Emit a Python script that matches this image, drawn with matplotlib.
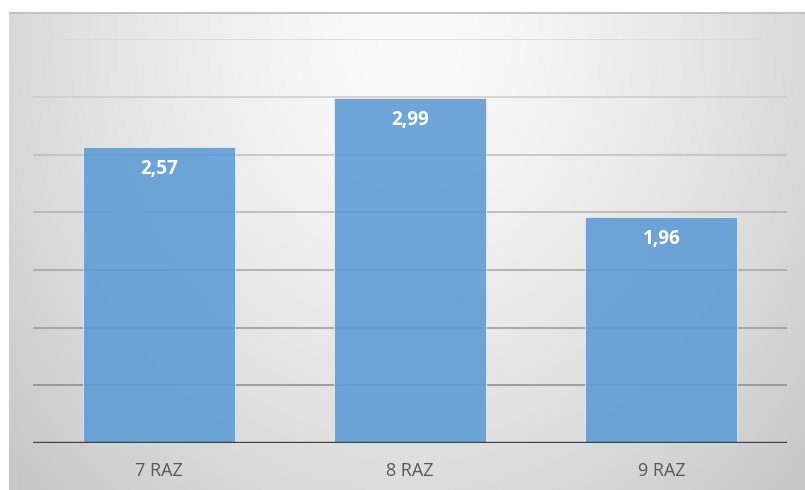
import numpy as np
import matplotlib
matplotlib.use("Agg")
import matplotlib.pyplot as plt

categories = ["7 RAZ", "8 RAZ", "9 RAZ"]
values = [2.57, 2.99, 1.96]
value_labels = ["2,57", "2,99", "1,96"]
grid_levels = [0.5, 1.0, 1.5, 2.0, 2.5, 3.0, 3.5]

W, H = 805, 490
fig = plt.figure(figsize=(W / 100, H / 100), dpi=100)
fig.patch.set_facecolor("white")

# background radial gradient panel
bx0, by_top = 9, 12
bw, bh = W - bx0, H - by_top
bg = fig.add_axes([bx0 / W, 0, bw / W, bh / H], zorder=0)
yy, xx = np.mgrid[0:bh, 0:bw]
cx, cy = 400.0, 30.0
r = np.sqrt(((xx - cx) / 390.0) ** 2 + ((yy - cy) / 460.0) ** 2)
val = 251 - 33 * r ** 1.4
val = np.clip(val, 200, 252) / 255.0
img = np.dstack([val, val, val])
bg.imshow(img, aspect="auto", interpolation="bilinear")
bg.set_axis_off()
bg.axhline(0, color="#bdbdbd", lw=1.2)

# main axes
left, right = 33, 787
base_y, top_y = 443, 39.3
ax = fig.add_axes([left / W, (H - base_y) / H, (right - left) / W, (base_y - top_y) / H], zorder=1)
ax.patch.set_alpha(0)
ax.set_xlim(-0.5, 2.5)
ax.set_ylim(0, 3.5)

x = np.arange(len(categories))
n = len(grid_levels)
for i, g in enumerate(grid_levels):
    t = i / (n - 1)
    c = (1 - t) * 0.54 + t * 0.85
    ax.axhline(g, color=(c, c, c), lw=1.1, zorder=1)

ax.bar(x, values, width=0.605, color="#5b9bd5", alpha=0.88,
       edgecolor=(0.93, 0.95, 0.98, 0.8), linewidth=0.6, zorder=2)
ax.axhline(0, color="#404040", lw=1.7, zorder=3)

for xi, v, lab in zip(x, values, value_labels):
    ax.annotate(lab, (xi, v), xytext=(0, -22), textcoords="offset pixels",
                ha="center", va="center", color="white", fontsize=13.5,
                fontweight="bold", family="Open Sans", zorder=4)

ax.set_xticks(x)
ax.set_xticklabels(categories, family="Open Sans", fontsize=13, color="#595959")
ax.tick_params(axis="x", length=0, pad=14)
ax.set_yticks([])
for s in ax.spines.values():
    s.set_visible(False)

fig.savefig("out.png", dpi=100)
